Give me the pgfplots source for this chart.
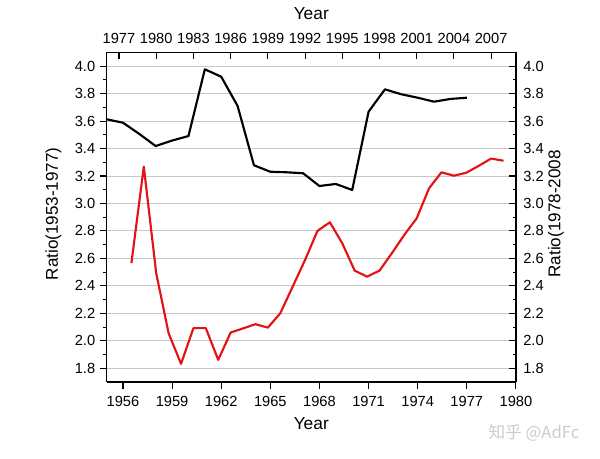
\documentclass[border=0pt]{standalone}
\usepackage{fontspec}
\setmainfont{Liberation Sans}
\newfontfamily\cjk{Noto Sans CJK SC}
\usepackage{pgfplots}
\pgfplotsset{compat=1.18}

\definecolor{redline}{RGB}{228,18,22}
\definecolor{gridgray}{RGB}{200,200,200}

% ratio series, black: plotted against bottom axis
\pgfplotstableread{
year ratio
1955 3.613
1956 3.588
1957 3.506
1958 3.418
1959 3.458
1960 3.491
1961 3.977
1962 3.923
1963 3.710
1964 3.278
1965 3.231
1966 3.227
1967 3.220
1968 3.127
1969 3.142
1970 3.098
1971 3.668
1972 3.831
1973 3.795
1974 3.770
1975 3.741
1976 3.761
1977 3.770
}\blackdata

% ratio series, red: plotted against top axis
\pgfplotstableread{
year ratio
1978 2.565
1979 3.268
1980 2.492
1981 2.055
1982 1.832
1983 2.092
1984 2.092
1985 1.861
1986 2.060
1987 2.090
1988 2.121
1989 2.096
1990 2.200
1991 2.394
1992 2.589
1993 2.800
1994 2.863
1995 2.710
1996 2.511
1997 2.467
1998 2.511
1999 2.638
2000 2.771
2001 2.892
2002 3.111
2003 3.227
2004 3.202
2005 3.224
2006 3.274
2007 3.327
2008 3.311
}\reddata

\pgfplotsset{
  common/.style={
    scale only axis, width=307pt, height=247.2pt,
    at={(0,0)}, anchor=south west,
    ymin=1.7, ymax=4.1,
    ytick={1.8,2,2.2,2.4,2.6,2.8,3,3.2,3.4,3.6,3.8,4},
    minor y tick num=1, minor x tick num=1,
    yticklabel style={/pgf/number format/fixed, /pgf/number format/fixed zerofill, /pgf/number format/precision=1},
    xticklabel style={/pgf/number format/1000 sep={}},
    /pgf/number format/assume math mode=true,
    tick label style={font=\fontsize{11}{13}\selectfont},
    axis line style={line width=1pt},
    every tick/.style={black, line width=0.8pt},
    major tick length=5pt, minor tick length=2.5pt,
  },
}

\begin{document}
\begin{tikzpicture}
\path[use as bounding box] (-79.95pt,-57.75pt) rectangle (370.05pt,286.5pt);

\begin{axis}[
  common,
  xmin=1955, xmax=1980,
  xtick={1956,1959,...,1980},
  axis x line*=bottom, axis y line*=left,
  tick align=outside,
  xticklabel style={yshift=-2.5pt},
  ymajorgrids,
  grid style={gridgray, line width=0.7pt},
  xlabel={Year}, ylabel={Ratio(1953-1977)},
  every axis x label/.style={at={(axis description cs:0.5,-0.127)}, anchor=center, font=\fontsize{13}{15}\selectfont},
  every axis y label/.style={at={(axis description cs:-0.1297,0.51)}, rotate=90, anchor=center, font=\fontsize{12.8}{15}\selectfont},
]
\addplot[black, line width=1.6pt, line join=round] table[x=year, y=ratio] {\blackdata};
\end{axis}

\begin{axis}[
  common,
  xmin=1976, xmax=2009,
  xtick={1977,1980,...,2007},
  axis x line*=top, axis y line*=right,
  tick align=inside,
  xticklabel style={yshift=3pt},
  yticklabel style={xshift=2pt},
  xlabel={Year}, ylabel={Ratio(1978-2008},
  every axis x label/.style={at={(axis description cs:0.5,1.117)}, anchor=center, font=\fontsize{13}{15}\selectfont},
  every axis y label/.style={at={(axis description cs:1.098,0.51)}, rotate=90, anchor=center, font=\fontsize{12.8}{15}\selectfont},
]
\addplot[redline, line width=1.6pt, line join=round] table[x=year, y=ratio] {\reddata};
\end{axis}

\node[text=gray!40, font=\cjk\fontsize{12.5}{14}\selectfont] at (320.5pt,-38.25pt) {知乎 @AdFc};
\end{tikzpicture}
\end{document}
